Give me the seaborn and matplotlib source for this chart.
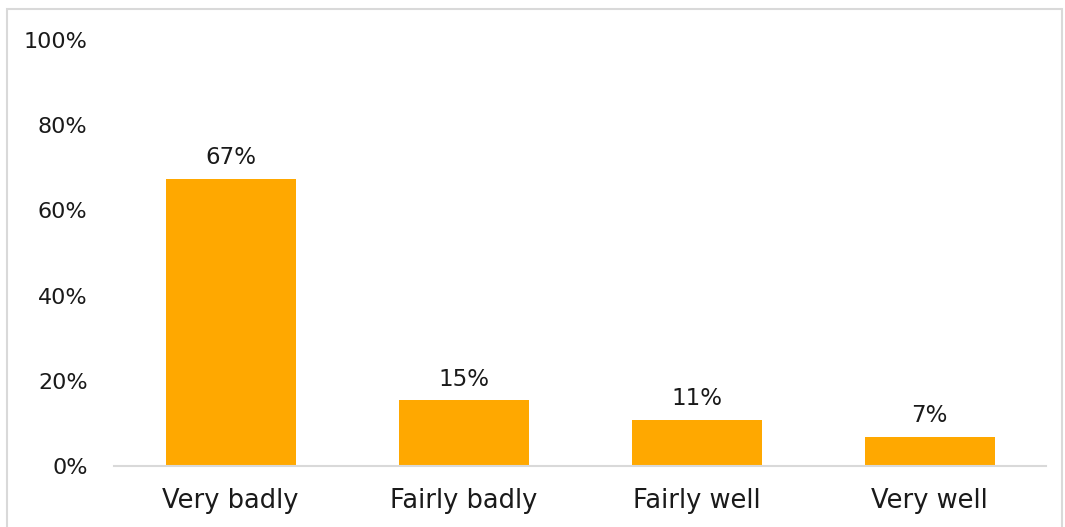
import matplotlib
matplotlib.use("Agg")
import matplotlib.pyplot as plt
import seaborn as sns
import pandas as pd
from matplotlib.patches import Rectangle

categories = ["Very badly", "Fairly badly", "Fairly well", "Very well"]
values = [67.4, 15.4, 10.8, 6.8]
labels = ["67%", "15%", "11%", "7%"]
yticks = [0, 20, 40, 60, 80, 100]
ytick_labels = ["0%", "20%", "40%", "60%", "80%", "100%"]

sns.set_style("white")
plt.rcParams["font.family"] = ["DejaVu Sans"]

df = pd.DataFrame({"cat": categories, "val": values})

fig = plt.figure(figsize=(10.65, 5.27), dpi=100)
ax = fig.add_axes([114/1065, 1-466/527, (1046-114)/1065, (466-40)/527])

sns.barplot(data=df, x="cat", y="val", color="#FFA800", saturation=1,
            width=130/233, ax=ax, edgecolor="none")
ax.bar_label(ax.containers[0], labels=labels, padding=7, fontsize=16.5, color="#1a1a1a")

ax.set_xlim(-0.5, 3.5)
ax.set_ylim(0, 100)
ax.set_yticks(yticks)
ax.set_yticklabels(ytick_labels, fontsize=16, color="#1a1a1a")
ax.tick_params(axis="y", length=0, pad=19)
ax.tick_params(axis="x", length=0, pad=16, labelsize=18.5, labelcolor="#1a1a1a")
ax.set_xlabel("")
ax.set_ylabel("")
for s in ["top", "right", "left"]:
    ax.spines[s].set_visible(False)
ax.spines["bottom"].set_color("#D9D9D9")
ax.spines["bottom"].set_linewidth(1.5)

fig.patches.append(Rectangle((7/1065, -0.05), (1062-7)/1065, 1.05 - 9/527,
                             transform=fig.transFigure, fill=False,
                             edgecolor="#D9D9D9", linewidth=1.5))

fig.savefig("out.png", dpi=100)
